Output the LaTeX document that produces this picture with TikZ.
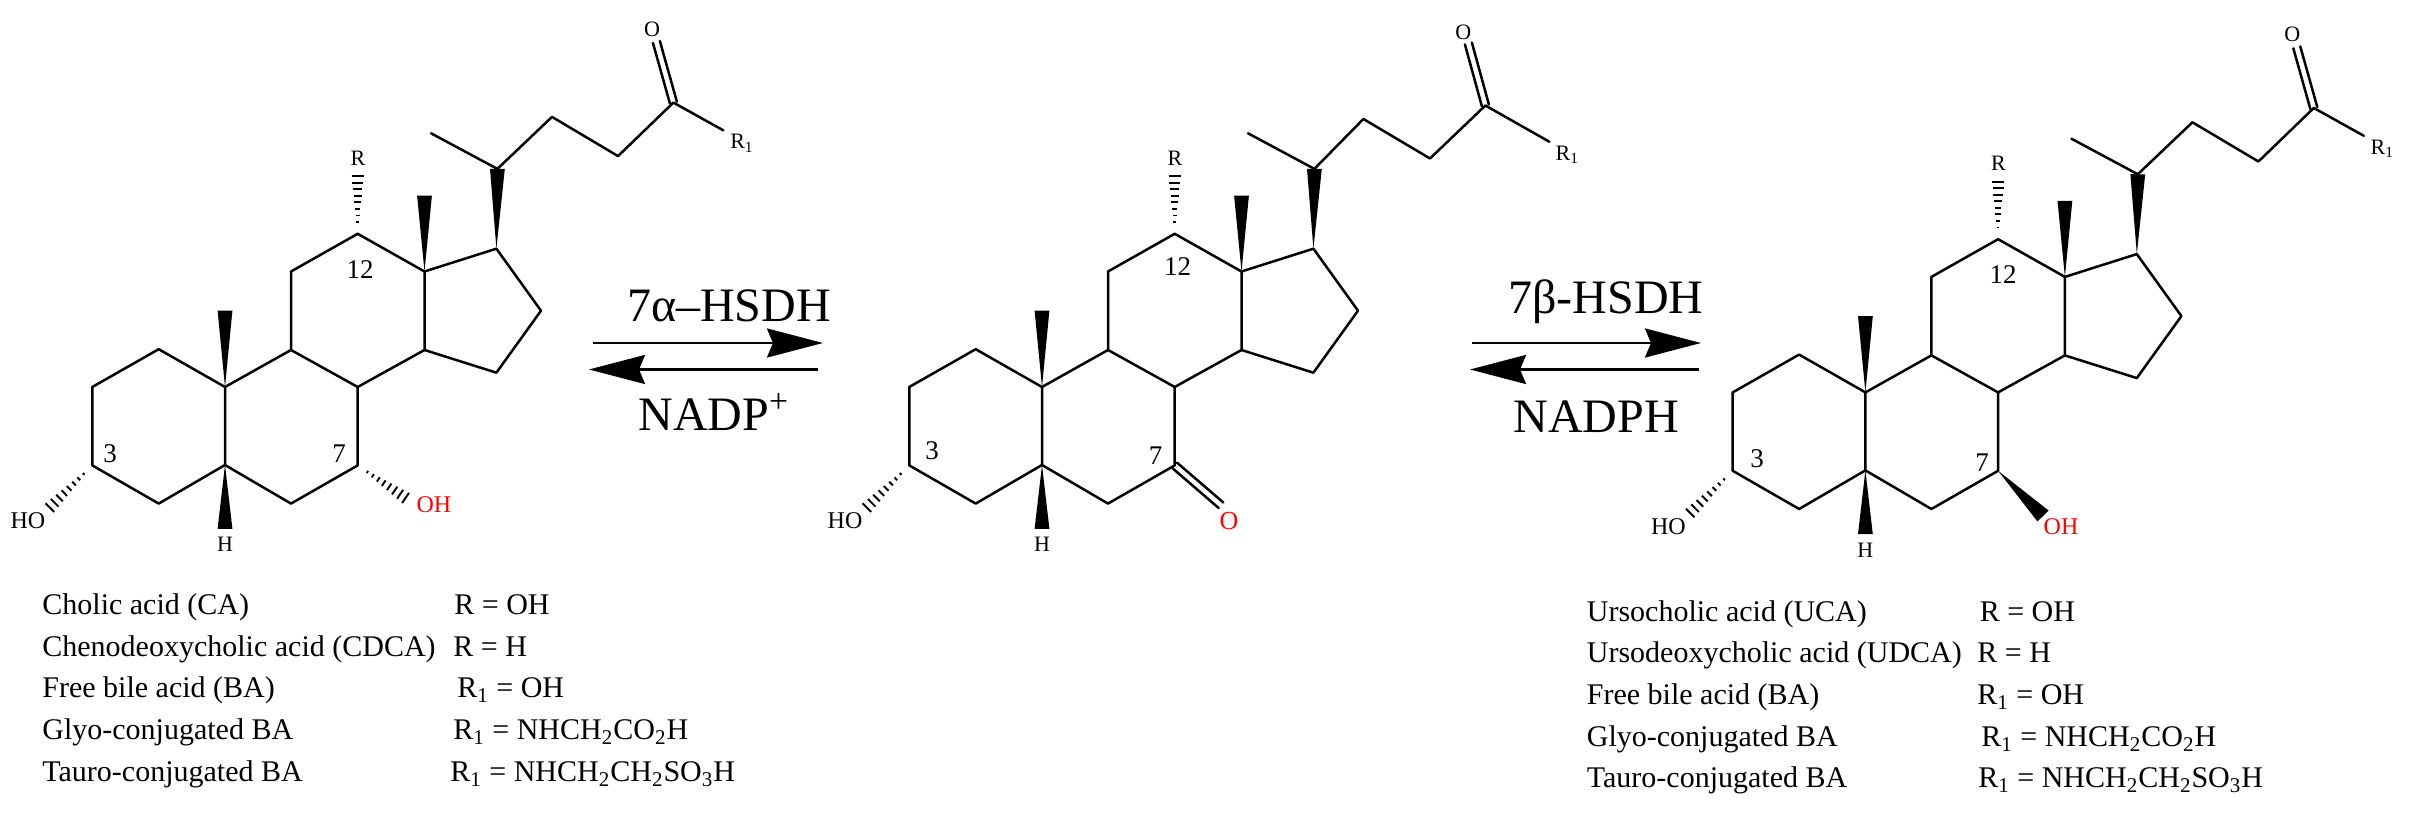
\documentclass[tikz,border=0pt]{standalone}
\usepackage{fontspec}
\setmainfont{Liberation Serif}
\usetikzlibrary{calc,arrows.meta,positioning}
\newcommand{\wedgebond}[3]{\fill ($(#1)$) -- ($(#2)!#3!90:(#1)$) -- ($(#2)!#3!-90:(#1)$) -- cycle;}
\newcommand{\hashbond}[2]{%
	\foreach \k in {1,...,9}{%
		\pgfmathsetmacro\hf{0.08+0.92*\k/9}
		\draw[hashline] ($(#1)!\hf!(#2)!\hf*3.4pt!90:(#2)$) -- ($(#1)!\hf!(#2)!\hf*3.4pt!-90:(#2)$);
	}}
\newcommand{\doublebond}[2]{%
	\draw[bondline] ($(#1)!1.8pt!90:(#2)$) -- ($(#2)!1.8pt!-90:(#1)$);
	\draw[bondline] ($(#1)!1.8pt!-90:(#2)$) -- ($(#2)!1.8pt!90:(#1)$);}
\begin{document}
\begin{tikzpicture}[x=0.5pt,y=-0.5pt]
	\tikzset{
		bondline/.style={line width=1.25pt,line join=round,line cap=round},
		hashline/.style={line width=0.95pt},
		atomlabel/.style={font=\fontsize{11}{13}\selectfont,inner sep=0pt},
		grouplabel/.style={font=\fontsize{12}{14}\selectfont,inner sep=0pt},
		numlabel/.style={font=\fontsize{13.5}{15}\selectfont,inner sep=0pt},
		rowtext/.style={font=\fontsize{15}{18}\selectfont,inner sep=0pt,anchor=base west},
		enzymetext/.style={font=\fontsize{24}{28}\selectfont,inner sep=0pt,anchor=base west},
		eqarrow/.style={line width=1.3pt,-{Stealth[length=28pt,width=14.5pt,inset=3pt]}},
		skeleton/.pic={
			\coordinate (c1) at (158.7,349.2);
			\coordinate (c2) at (92.3,387);
			\coordinate (c3) at (92.3,465.4);
			\coordinate (c4) at (158.7,503.6);
			\coordinate (c5) at (225,465);
			\coordinate (c6) at (291,503.6);
			\coordinate (c7) at (357.7,465.4);
			\coordinate (c8) at (357.7,387);
			\coordinate (c9) at (291,350);
			\coordinate (c10) at (225,387);
			\coordinate (c11) at (291,271.5);
			\coordinate (c12) at (357.7,233.8);
			\coordinate (c13) at (424.5,271.5);
			\coordinate (c14) at (424.5,350);
			\coordinate (c15) at (496.4,372.7);
			\coordinate (c16) at (541,310.7);
			\coordinate (c17) at (496.4,248.7);
			\coordinate (c20) at (497.4,168.9);
			\coordinate (c21) at (431,133.3);
			\coordinate (m10) at (225,310.7);
			\coordinate (m13) at (424.5,195.6);
			\coordinate (h5) at (225,528.8);
			\coordinate (e3) at (45,512.4);
			\coordinate (e12) at (357.7,169.6);
			\draw[bondline] (c10)--(c1)--(c2)--(c3)--(c4)--(c5)--(c10)--(c9)--(c8)--(c7)--(c6)--(c5);
			\draw[bondline] (c9)--(c11)--(c12)--(c13)--(c14)--(c8);
			\draw[bondline] (c14)--(c15)--(c16)--(c17)--(c13);
			\draw[bondline] (c21)--(c20);
			\wedgebond{c10}{m10}{3.7pt}
			\wedgebond{c13}{m13}{3.7pt}
			\wedgebond{c5}{h5}{3.7pt}
			\wedgebond{c17}{c20}{3.7pt}
			\hashbond{c3}{e3}
			\hashbond{c12}{e12}
			\path (28,521) node[grouplabel] (ho) {HO};
			\path (225,544.5) node[atomlabel] (h) {H};
			\path (358,158.2) node[atomlabel] (r) {R};
		},
		tailhigh/.pic={
			\coordinate (c20) at (0,0);
			\coordinate (c22) at (54.6,-52);
			\coordinate (c23) at (120.6,-12.8);
			\coordinate (c24) at (176,-66.3);
			\coordinate (o) at (159,-126.9);
			\coordinate (e1) at (226,-38.5);
			\draw[bondline] (c20)--(c22)--(c23)--(c24)--(e1);
			\doublebond{c24}{o}
			\path (154.6,-139.7) node[atomlabel] (ol) {O};
			\path (244.6,-25.7) node[atomlabel] (rl) {R\textsubscript{1}};
		},
		taillow/.pic={
			\coordinate (c20) at (0,0);
			\coordinate (c22) at (49,-49.9);
			\coordinate (c23) at (115.6,-10.4);
			\coordinate (c24) at (171,-63.4);
			\coordinate (o) at (154,-125.4);
			\coordinate (e1) at (235,-27.1);
			\draw[bondline] (c20)--(c22)--(c23)--(c24)--(e1);
			\doublebond{c24}{o}
			\path (149,-136.8) node[atomlabel] (ol) {O};
			\path (253,-14.3) node[atomlabel] (rl) {R\textsubscript{1}};
		}
	}
	\useasboundingbox (0,0) rectangle (2422,822);
	%%%first molecule
	\path (0,0) pic (la) {skeleton};
	\path (lac20) pic (lb) {tailhigh};
	\coordinate (lae7) at (411,501.7);
	\hashbond{lac7}{lae7}
	\path (434,504.6) node[grouplabel,text=red] (laoh) {OH};
	%%%second molecule
	\path (817,0) pic (ma) {skeleton};
	\path (mac20) pic (mb) {taillow};
	\coordinate (mae7) at (1221,505.3);
	\doublebond{mac7}{mae7}
	\path (1229,521) node[atomlabel,text=red,font=\fontsize{13}{15}\selectfont] (mao) {O};
	%%%third molecule
	\path (1640.4,5.4) pic (ra) {skeleton};
	\path (rac20) pic (rb) {tailhigh};
	\coordinate (rae7) at (2043,516);
	\wedgebond{rac7}{rae7}{3.9pt}
	\path (2061,526.7) node[grouplabel,text=red] (raoh) {OH};
	%%%position numbers
	\foreach \mol/\tx/\ty/\sx/\sy/\wx/\wy in {l/110/453.3/339/453.3/360/270,m/932/451/1155.6/456/1177.5/267,r/1757/459/1982/463/2003/275}{
		\path (\tx,\ty) node[numlabel] (\mol three) {3};
		\path (\sx,\sy) node[numlabel] (\mol seven) {7};
		\path (\wx,\wy) node[numlabel] (\mol twelve) {12};
	}
	%%%first pair of arrows
	\coordinate (aa) at (593,343);
	\coordinate (ab) at (823,343);
	\coordinate (ac) at (818,369.5);
	\coordinate (ad) at (589,369.5);
	\draw[eqarrow] (aa) -- (ab);
	\draw[eqarrow] (ac) -- (ad);
	\path (626.7,321.7) node[enzymetext] (ea) {7α–HSDH};
	\path (638,431) node[enzymetext] (ca) {NADP\textsuperscript{+}};
	%%%second pair of arrows
	\coordinate (ba) at (1472,343);
	\coordinate (bb) at (1701,343);
	\coordinate (bc) at (1699,369.5);
	\coordinate (bd) at (1470,369.5);
	\draw[eqarrow] (ba) -- (bb);
	\draw[eqarrow] (bc) -- (bd);
	\path (1508,314) node[enzymetext] (eb) {7β-HSDH};
	\path (1513,433) node[enzymetext] (cb) {NADPH};
	%%%left list
	\foreach \k/\y/\rx/\acid/\rval in {
		1/615/454/Cholic acid (CA)/R = OH,
		2/657/453/Chenodeoxycholic acid (CDCA)/R = H,
		3/698/457/Free bile acid (BA)/R\textsubscript{1} = OH,
		4/740/453/Glyo-conjugated BA/R\textsubscript{1} = NHCH\textsubscript{2}CO\textsubscript{2}H,
		5/782/450/Tauro-conjugated BA/R\textsubscript{1} = NHCH\textsubscript{2}CH\textsubscript{2}SO\textsubscript{3}H}{
		\path (42,\y) node[rowtext] (lacid\k) {\acid};
		\path (\rx,\y) node[rowtext] (lval\k) {\rval};
	}
	%%%right list
	\foreach \k/\y/\rx/\acid/\rval in {
		1/622/1979.4/Ursocholic acid (UCA)/R = OH,
		2/663/1977/Ursodeoxycholic acid (UDCA)/R = H,
		3/705/1977/Free bile acid (BA)/R\textsubscript{1} = OH,
		4/747/1981/Glyo-conjugated BA/R\textsubscript{1} = NHCH\textsubscript{2}CO\textsubscript{2}H,
		5/788/1978/Tauro-conjugated BA/R\textsubscript{1} = NHCH\textsubscript{2}CH\textsubscript{2}SO\textsubscript{3}H}{
		\path (1586.5,\y) node[rowtext] (racid\k) {\acid};
		\path (\rx,\y) node[rowtext] (rval\k) {\rval};
	}
\end{tikzpicture}
\end{document}
